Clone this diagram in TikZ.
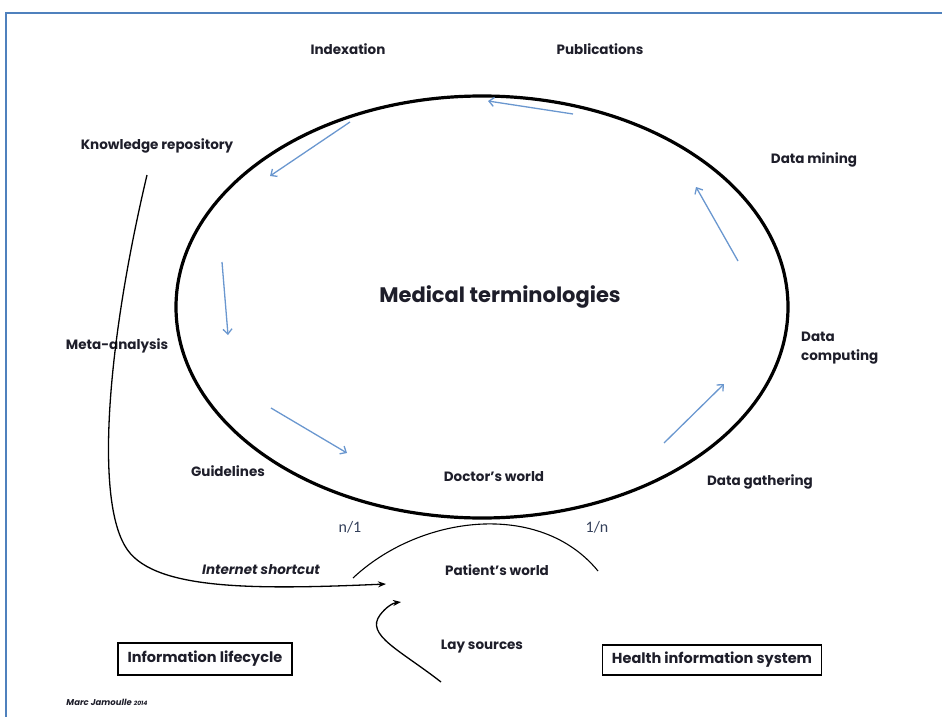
\documentclass[tikz,border=0pt]{standalone}
\usepackage{fontspec}
\setmainfont{Poppins}
\newfontfamily\nfont{Carlito}
\usetikzlibrary{arrows.meta,shapes.geometric}
\definecolor{frameblue}{HTML}{4F81BD}
\definecolor{arrowblue}{HTML}{6A97CF}
\definecolor{txt}{HTML}{1E1E2A}
\definecolor{ntxt}{HTML}{34405A}
\begin{document}
\begin{tikzpicture}[x=1pt,y=-1pt,
  lbl/.style={text=txt,font=\bfseries\fontsize{13.5}{15}\selectfont,inner sep=1pt},
  nlbl/.style={text=ntxt,font=\nfont\fontsize{16}{18}\selectfont,inner sep=1pt},
  cyc/.style={draw=arrowblue,line width=1.3pt,-{Straight Barb[length=5pt,width=9pt]}},
  blk/.style={draw=black,line width=1.3pt},
  boxed/.style={draw=black,line width=1.6pt,text=txt,font=\bfseries\fontsize{14.5}{16}\selectfont,inner sep=0pt}]
\useasboundingbox (0,0) rectangle (942,717);
% frame
\draw[frameblue,line width=2.2pt] (6,717) -- (6,13) -- (942,13);
% main ellipse
\node[draw,ellipse,line width=3.2pt,minimum width=612pt,minimum height=422pt,inner sep=0pt] (E) at (482,307) {};
\node[text=txt,font=\bfseries\fontsize{21}{24}\selectfont] (mt) at (500,297) {Medical terminologies};
% labels
\node[lbl] (idx) at (348,49) {Indexation};
\node[lbl] (pub) at (600,49) {Publications};
\node[lbl] (kr) at (157,146) {Knowledge repository};
\node[lbl] (dm) at (814,160) {Data mining};
\node[lbl] (meta) at (117,346) {Meta-analysis};
\node[lbl,font=\bfseries\fontsize{13.5}{19}\selectfont,align=left,anchor=west] (dc) at (800,348) {Data\\computing};
\node[lbl] (guid) at (228,471) {Guidelines};
\node[lbl] (doc) at (494,477) {Doctor’s world};
\node[lbl] (dg) at (760,482) {Data gathering};
\node[nlbl] (n1) at (350,527) {n/1};
\node[nlbl] (1n) at (597,527) {1/n};
\node[lbl,font=\bfseries\itshape\fontsize{13.5}{15}\selectfont] (inet) at (261,570) {Internet shortcut};
\node[lbl] (pat) at (497,570) {Patient’s world};
\node[lbl] (lay) at (482,647) {Lay sources};
\node[boxed,minimum width=174pt,minimum height=32pt] (b1) at (205,659) {Information lifecycle};
\node[boxed,minimum width=219pt,minimum height=30pt] (b2) at (712,660) {Health information system};
\node[text=txt,font=\bfseries\itshape\fontsize{8.5}{10}\selectfont,inner sep=0pt] (marc) at (107,702) {Marc Jamoulle {\fontsize{6}{7}\selectfont 2014}};
% cycle arrows
\coordinate (a1s) at (573,114); \coordinate (a1e) at (488,101);
\coordinate (a2s) at (350,122); \coordinate (a2e) at (270,176);
\coordinate (a3s) at (222,262); \coordinate (a3e) at (228,335);
\coordinate (a4s) at (271,408); \coordinate (a4e) at (347,453);
\coordinate (a5s) at (664,443); \coordinate (a5e) at (724,384);
\coordinate (a6s) at (738,261); \coordinate (a6e) at (696,187);
\draw[cyc] (a1s) -- (a1e);
\draw[cyc] (a2s) -- (a2e);
\draw[cyc] (a3s) -- (a3e);
\draw[cyc] (a4s) -- (a4e);
\draw[cyc] (a5s) -- (a5e);
\draw[cyc] (a6s) -- (a6e);
% patient arc
\coordinate (pa1) at (353,578); \coordinate (pa2) at (598,571);
\draw[blk,line width=1.1pt] (pa1) .. controls (420,515) and (540,500) .. (pa2);
% internet shortcut
\coordinate (ks) at (147,175); \coordinate (ke) at (386,584);
\draw[blk,-{Stealth[length=8pt,width=6pt]}] (ks) .. controls (108,340) and (95,495) .. (125,546)
  .. controls (150,590) and (250,590) .. (ke);
% lay sources
\coordinate (ls) at (441,682); \coordinate (le) at (401,602);
\draw[blk,-{Stealth[length=8pt,width=6pt]}] (ls) .. controls (400,650) and (365,635) .. (380,615)
  .. controls (386,607) and (393,603) .. (le);
\end{tikzpicture}
\end{document}
